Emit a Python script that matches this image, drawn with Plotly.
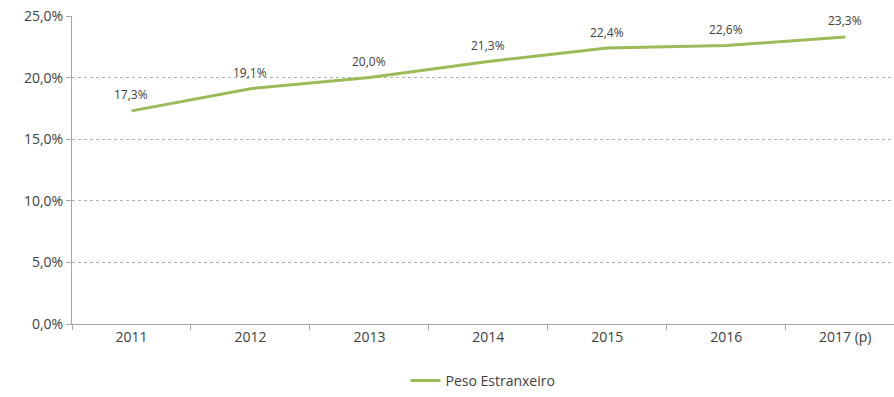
import plotly.graph_objects as go

years = ["2011", "2012", "2013", "2014", "2015", "2016", "2017 (p)"]
peso = [17.3, 19.1, 20.0, 21.3, 22.4, 22.6, 23.3]
y_ticks = [0, 5, 10, 15, 20, 25]
y_tick_labels = ["0,0%", "5,0%", "10,0%", "15,0%", "20,0%", "25,0%"]

labels = [f"{v:.1f}%".replace(".", ",") for v in peso]

fig = go.Figure()
fig.add_trace(go.Scatter(
    x=years, y=peso, mode="lines", name="Peso Estranxeiro",
    line=dict(color="#9BBB59", width=3),
))

# value labels above each point (category index as x position)
for i, (v, t) in enumerate(zip(peso, labels)):
    fig.add_annotation(x=i, y=v, text=t, showarrow=False,
                       yanchor="middle", yshift=16,
                       font=dict(size=12, color="#404040", family="Open Sans"))

fig.update_layout(
    width=894, height=397,
    margin=dict(l=72, r=0, t=16, b=71),
    paper_bgcolor="white", plot_bgcolor="white",
    font=dict(family="Open Sans", size=13, color="#404040"),
    showlegend=True,
    legend=dict(orientation="h", x=0.5, xanchor="center", y=-0.185, yanchor="middle",
                font=dict(size=14, color="#404040")),
    xaxis=dict(
        type="category", range=[-0.5, 6.41], tickson="boundaries",
        showline=True, linecolor="#A6A6A6", linewidth=1,
        ticks="outside", ticklen=5, tickcolor="#A6A6A6",
        showgrid=False, tickfont=dict(size=14, color="#404040"),
    ),
    yaxis=dict(
        range=[0, 25], tickvals=y_ticks, ticktext=y_tick_labels,
        showline=True, linecolor="#A6A6A6", linewidth=1,
        ticks="outside", ticklen=5, tickcolor="#A6A6A6",
        showgrid=True, gridcolor="#B0B0B0", griddash="dot", gridwidth=1,
        zeroline=False, tickfont=dict(size=14, color="#404040"),
    ),
)

fig.write_html("out.html")
